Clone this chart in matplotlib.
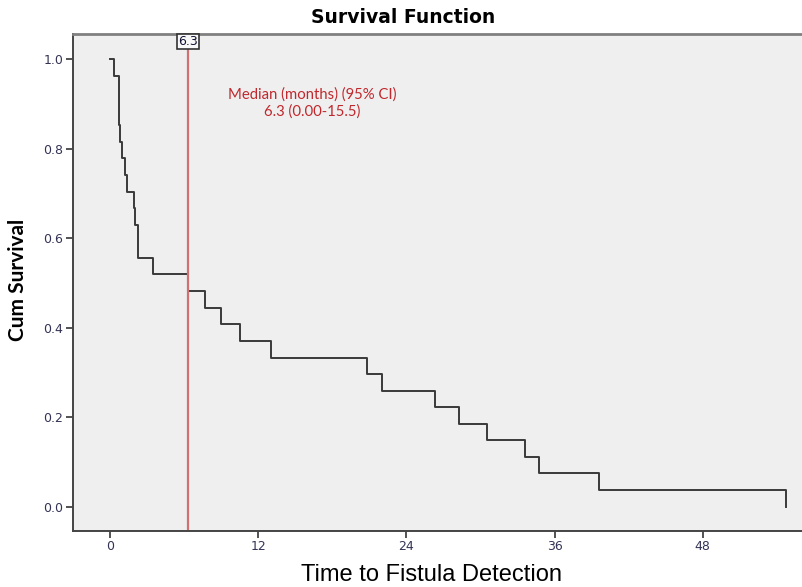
import matplotlib.pyplot as plt
from matplotlib.transforms import blended_transform_factory

# Kaplan-Meier step values (months, cumulative survival)
EVENT_TIMES = [0.0, 0.35, 0.73, 0.8, 1.0, 1.2, 1.4, 1.9, 2.0, 2.3, 3.5, 6.3, 7.7,
               9.0, 10.5, 13.0, 20.8, 22.0, 26.3, 28.25, 30.5, 33.6, 34.7, 39.6, 54.7]
CUM_SURVIVAL = [1.0, 0.963, 0.852, 0.815, 0.778, 0.741, 0.704, 0.667, 0.630, 0.556,
                0.519, 0.481, 0.444, 0.407, 0.370, 0.333, 0.296, 0.259, 0.222, 0.185,
                0.148, 0.111, 0.074, 0.037, 0.0]
MEDIAN = 6.3
MEDIAN_TEXT = "Median (months) (95% CI)\n6.3 (0.00-15.5)"
X_TICKS = [0, 12, 24, 36, 48]
Y_TICKS = [0.0, 0.2, 0.4, 0.6, 0.8, 1.0]


def main() -> None:
    fig = plt.figure(figsize=(8.03, 5.87), dpi=100)
    ax = fig.add_axes([0.0909, 0.0959, 0.915, 0.846])
    ax.set_facecolor("#efefef")

    # Survival curve
    ax.step(EVENT_TIMES, CUM_SURVIVAL, where="post", color="#3a3a3a", linewidth=1.4)

    # Median reference line and its label box
    ax.axvline(MEDIAN, color="#d07070", linewidth=1.6)
    trans = blended_transform_factory(ax.transData, ax.transAxes)
    ax.text(MEDIAN, 0.998, f"{MEDIAN:.1f}", transform=trans, ha="center", va="top",
            fontsize=9, color="#111133",
            bbox=dict(boxstyle="square,pad=0.1", facecolor="#f8f8f8",
                      edgecolor="#333333", linewidth=1.2))
    ax.text(16.4, 0.902, MEDIAN_TEXT, ha="center", va="center", fontsize=10.7,
            family="Lato", color="#c0282d", linespacing=1.3)

    # Axes ranges and ticks
    ax.set_xlim(-3.0, 56.5)
    ax.set_ylim(-0.054, 1.056)
    ax.set_xticks(X_TICKS)
    ax.set_yticks(Y_TICKS)
    ax.set_yticklabels([f"{v:.1f}" for v in Y_TICKS])
    ax.tick_params(direction="out", length=5, width=1.3, color="#444444",
                   labelsize=9, labelcolor="#333355", pad=2)

    for side in ["left", "bottom"]:
        ax.spines[side].set_color("#444444")
        ax.spines[side].set_linewidth(1.4)
    ax.spines["top"].set_color("#808080")
    ax.spines["top"].set_linewidth(2)
    ax.spines["right"].set_visible(False)

    # Labels and title
    fig.text(0.502, 0.970, "Survival Function", ha="center", va="center",
             fontsize=13.5, fontweight="bold", family="DejaVu Sans")
    fig.text(0.023, 0.523, "Cum Survival", ha="center", va="center", rotation=90,
             fontsize=15, fontweight="bold", family="Lato")
    fig.text(0.537, 0.021, "Time to Fistula Detection", ha="center", va="center",
             fontsize=17, family="Liberation Sans")

    fig.savefig("out.png", dpi=100)


if __name__ == "__main__":
    main()
